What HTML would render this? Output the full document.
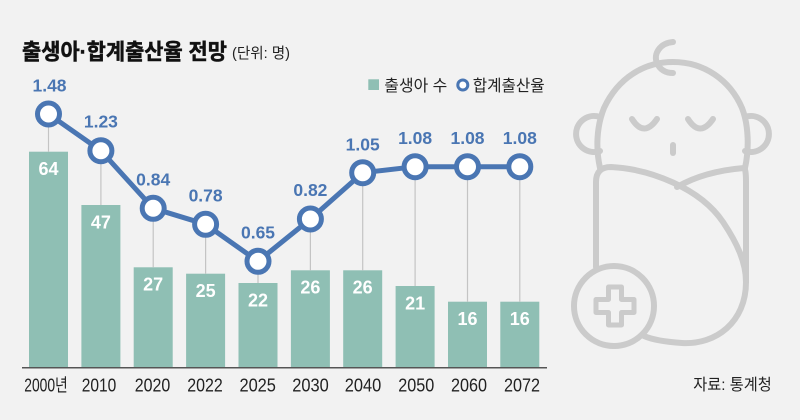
<!DOCTYPE html>
<html><head><meta charset="utf-8"><style>
html,body{margin:0;padding:0;background:#f2f2f2;}
svg{display:block;}
</style></head><body>
<svg width="800" height="420" viewBox="0 0 800 420" xmlns="http://www.w3.org/2000/svg">
<rect width="800" height="420" fill="#f2f2f2"/>
<!-- title -->
<text x="22" y="59.5" font-family="'Liberation Sans','Noto Sans CJK KR',sans-serif" font-weight="bold" font-size="22" fill="#111" stroke="#111" stroke-width="0.5" textLength="205" lengthAdjust="spacingAndGlyphs">출생아·합계출산율 전망</text>
<text x="232" y="58" font-family="'Liberation Sans','Noto Sans CJK KR',sans-serif" font-size="15" fill="#222" textLength="58" lengthAdjust="spacingAndGlyphs">(단위: 명)</text>
<!-- legend -->
<rect x="368.3" y="79.3" width="10.7" height="10.7" fill="#8fbfb4"/>
<text x="384.3" y="91" font-family="'Liberation Sans','Noto Sans CJK KR',sans-serif" font-size="16" fill="#222" textLength="63" lengthAdjust="spacingAndGlyphs">출생아 수</text>
<circle cx="462.8" cy="85" r="5" fill="#fff" stroke="#4a76b3" stroke-width="3"/>
<text x="472.7" y="91" font-family="'Liberation Sans','Noto Sans CJK KR',sans-serif" font-size="16" fill="#222" textLength="72" lengthAdjust="spacingAndGlyphs">합계출산율</text>
<!-- bars -->
<g fill="#8fbfb4">
<rect x="29" y="151.7" width="39" height="216"/>
<rect x="81.4" y="205" width="39" height="162.7"/>
<rect x="133.7" y="267.3" width="39" height="100.4"/>
<rect x="186.1" y="273.7" width="39" height="94"/>
<rect x="238.5" y="283" width="39" height="84.7"/>
<rect x="290.9" y="270.3" width="39" height="97.4"/>
<rect x="343.2" y="270.3" width="39" height="97.4"/>
<rect x="395.6" y="286" width="39" height="81.7"/>
<rect x="448" y="301.7" width="39" height="66"/>
<rect x="500.3" y="301.7" width="39" height="66"/>
</g>
<!-- bar values -->
<g font-family="'Liberation Sans',sans-serif" font-weight="bold" font-size="18" fill="#fff" text-anchor="middle">
<text x="48.5" y="175">64</text>
<text x="100.9" y="228.3">47</text>
<text x="153.2" y="290.7">27</text>
<text x="205.6" y="297">25</text>
<text x="258" y="306.3">22</text>
<text x="310.4" y="293.6">26</text>
<text x="362.7" y="293.6">26</text>
<text x="415.1" y="309.3">21</text>
<text x="467.5" y="325">16</text>
<text x="519.8" y="325">16</text>
</g>
<!-- gray connectors -->
<g stroke="#c4c4c4" stroke-width="1.2">
<line x1="48.5" y1="114" x2="48.5" y2="151.7"/>
<line x1="100.9" y1="150.7" x2="100.9" y2="205"/>
<line x1="153.2" y1="208.3" x2="153.2" y2="267.3"/>
<line x1="205.6" y1="224.3" x2="205.6" y2="273.7"/>
<line x1="258" y1="261.3" x2="258" y2="283"/>
<line x1="310.4" y1="219" x2="310.4" y2="270.3"/>
<line x1="362.7" y1="172.7" x2="362.7" y2="270.3"/>
<line x1="415.1" y1="166.7" x2="415.1" y2="286"/>
<line x1="467.5" y1="166.7" x2="467.5" y2="301.7"/>
<line x1="519.8" y1="166.7" x2="519.8" y2="301.7"/>
</g>
<!-- axis -->
<line x1="22" y1="367.8" x2="547" y2="367.8" stroke="#555" stroke-width="1.5"/>
<!-- x labels -->
<g font-family="'Liberation Sans','Noto Sans CJK KR',sans-serif" font-size="18" fill="#222" text-anchor="middle">
<text x="46" y="391.5" textLength="43.5" lengthAdjust="spacingAndGlyphs">2000년</text>
<text x="99" y="391.5" textLength="34.5" lengthAdjust="spacingAndGlyphs">2010</text>
<text x="152.5" y="391.5" textLength="35.5" lengthAdjust="spacingAndGlyphs">2020</text>
<text x="205" y="391.5" textLength="35.5" lengthAdjust="spacingAndGlyphs">2022</text>
<text x="257.7" y="391.5" textLength="36.5" lengthAdjust="spacingAndGlyphs">2025</text>
<text x="310.5" y="391.5" textLength="36.5" lengthAdjust="spacingAndGlyphs">2030</text>
<text x="363" y="391.5" textLength="36.5" lengthAdjust="spacingAndGlyphs">2040</text>
<text x="416.3" y="391.5" textLength="36" lengthAdjust="spacingAndGlyphs">2050</text>
<text x="469" y="391.5" textLength="36" lengthAdjust="spacingAndGlyphs">2060</text>
<text x="522" y="391.5" textLength="36" lengthAdjust="spacingAndGlyphs">2072</text>
</g>
<!-- line -->
<polyline points="48.5,114 100.9,150.7 153.2,208.3 205.6,224.3 258,261.3 310.4,219 362.7,172.7 415.1,166.7 467.5,166.7 519.8,166.7" fill="none" stroke="#4a76b3" stroke-width="5" stroke-linejoin="round"/>
<g fill="#fff" stroke="#4a76b3" stroke-width="5">
<circle cx="48.5" cy="114" r="11"/>
<circle cx="100.9" cy="150.7" r="11"/>
<circle cx="153.2" cy="208.3" r="11"/>
<circle cx="205.6" cy="224.3" r="11"/>
<circle cx="258" cy="261.3" r="11"/>
<circle cx="310.4" cy="219" r="11"/>
<circle cx="362.7" cy="172.7" r="11"/>
<circle cx="415.1" cy="166.7" r="11"/>
<circle cx="467.5" cy="166.7" r="11"/>
<circle cx="519.8" cy="166.7" r="11"/>
</g>
<g font-family="'Liberation Sans',sans-serif" font-weight="bold" font-size="17.5" fill="#4a76b3" text-anchor="middle">
<text x="49.5" y="91.5">1.48</text>
<text x="100.9" y="127.5">1.23</text>
<text x="153.2" y="185.3">0.84</text>
<text x="205.6" y="201.3">0.78</text>
<text x="258" y="238.3">0.65</text>
<text x="310.4" y="196">0.82</text>
<text x="362.7" y="150.5">1.05</text>
<text x="415.1" y="144">1.08</text>
<text x="467.5" y="144">1.08</text>
<text x="519.8" y="144">1.08</text>
</g>
<!-- baby icon -->
<g fill="none" stroke="#cbcbcb" stroke-width="6" stroke-linecap="round" stroke-linejoin="round">
<path d="M600,168 C596,150 596,128 604,108 C618,78 644,62 673,62 C704,62 730,80 742,108 C749,126 749,150 745,168"/>
<path d="M600,117 A18,18 0 1 0 600,151"/>
<path d="M745,117 A18,18 0 1 1 745,151"/>
<path d="M673,42 C660,43 653,54 657,63 C660,70 666,73 673,73"/>
<path d="M632,119 Q644,138 657,119"/>
<path d="M688,119 Q700,138 713,119"/>
<line x1="673" y1="145" x2="673" y2="153"/>
<path d="M596,267 L596,182 Q596,167 611,167 C650,169 700,188 723,222 C737,243 746,262 746,282"/>
<path d="M744,168 Q746,169 746,182 L746,282 C746,322 716,345 682,343 C667,342 653,340 644,336"/>
<path d="M744,168 C720,170 696,176 677,187"/>
<circle cx="614" cy="306" r="40"/>
</g>
<path d="M608.5,287 H621.5 V299.5 H634 V312.5 H621.5 V325 H608.5 V312.5 H596 V299.5 H608.5 Z" fill="none" stroke="#cbcbcb" stroke-width="5" stroke-linejoin="round"/>
<!-- source -->
<text x="693.3" y="390" font-family="'Liberation Sans','Noto Sans CJK KR',sans-serif" font-size="16" fill="#222" textLength="78.5" lengthAdjust="spacingAndGlyphs">자료: 통계청</text>
</svg>
</body></html>
